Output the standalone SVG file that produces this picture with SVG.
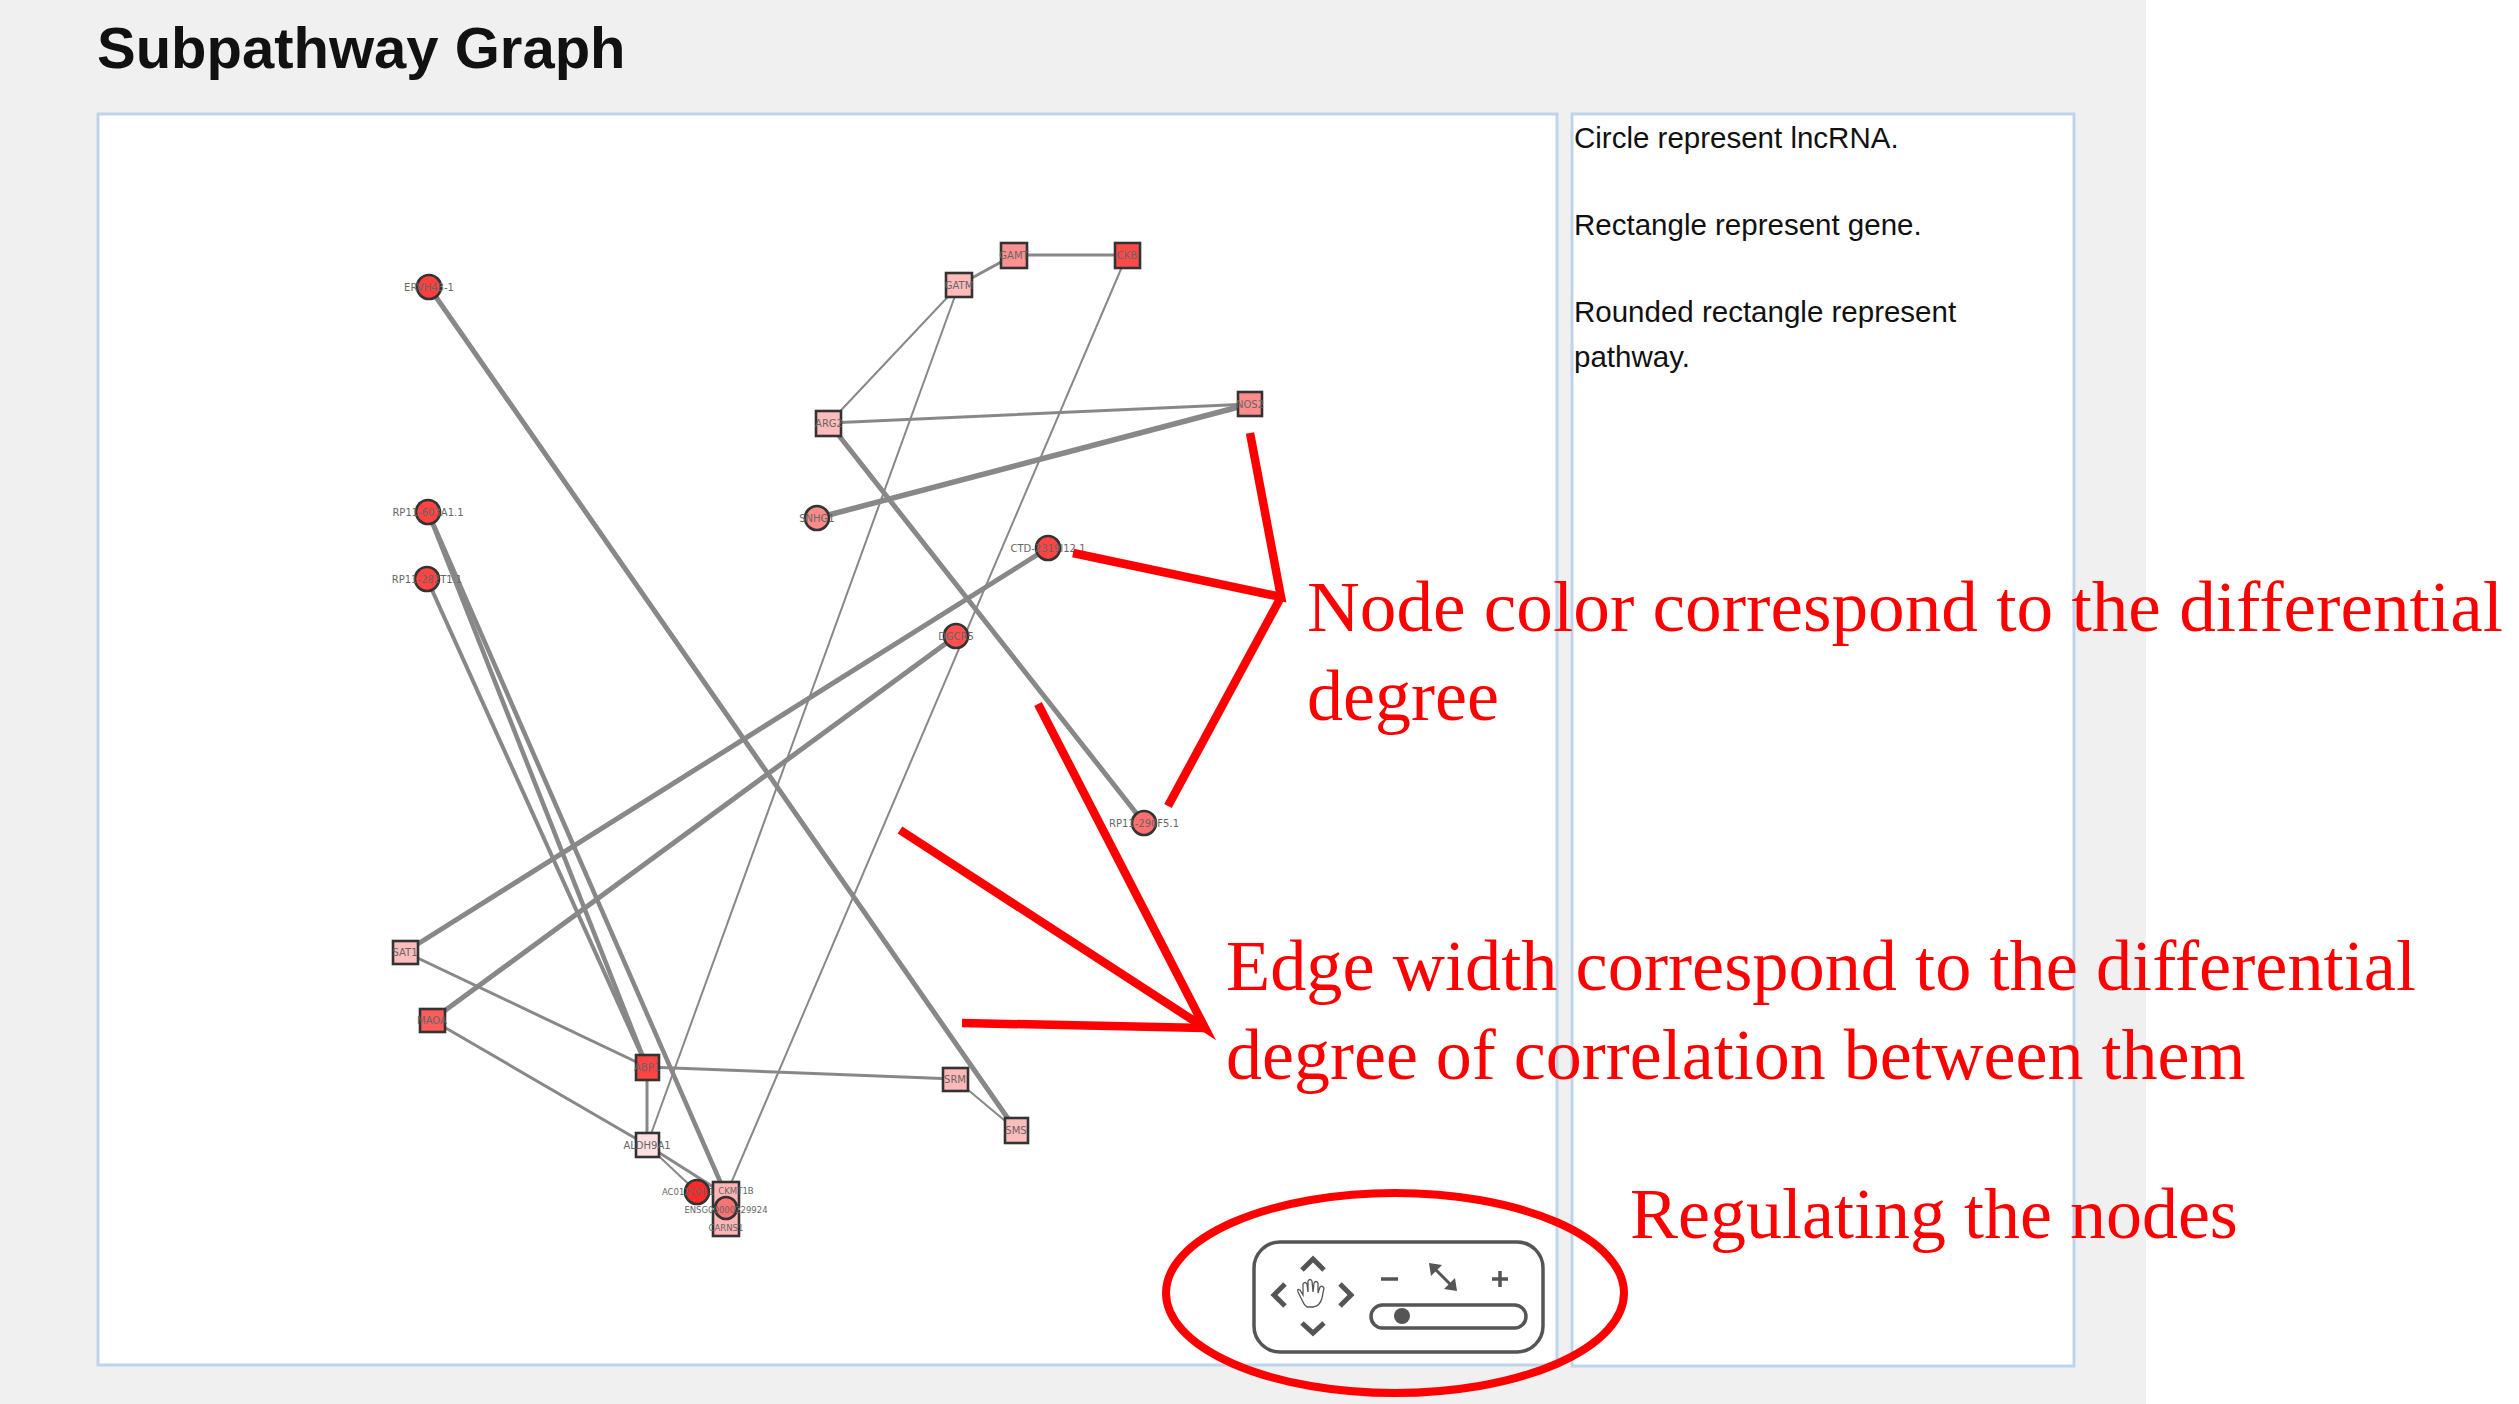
<svg xmlns="http://www.w3.org/2000/svg" width="2519" height="1404" viewBox="0 0 2519 1404">
<style>
.e{stroke:#888;fill:none;stroke-linecap:round}
.n{stroke:#333;stroke-width:2.6}
.lb{font-family:"DejaVu Sans",sans-serif;font-size:10px;fill:#666;text-anchor:middle}
.sm{font-size:8.5px}
.ann{stroke:#ff0000;stroke-width:8.5;fill:none;stroke-linecap:butt;stroke-linejoin:miter}
.at{font-family:"Liberation Serif","Times New Roman",serif;font-size:72px;fill:#ff0000}
.pt{font-family:"Liberation Sans",Arial,sans-serif;font-size:29.5px;fill:#111}
.ctl{stroke:#555;fill:none}
</style>
<rect x="0" y="0" width="2519" height="1404" fill="#ffffff"/>
<rect x="0" y="0" width="2146" height="1404" fill="#f0f0f0"/>
<text x="97" y="68" font-family="Liberation Sans, Arial, sans-serif" font-size="58" font-weight="bold" fill="#111">Subpathway Graph</text>
<rect id="graph-panel" x="98" y="114" width="1459" height="1251" fill="#ffffff" stroke="#bfd3ea" stroke-width="3"/>
<rect id="legend-panel" x="1572" y="114" width="502" height="1252" fill="#ffffff" stroke="#bfd3ea" stroke-width="3"/>
<g id="legend-text">
<text class="pt" x="1574" y="148">Circle represent lncRNA.</text>
<text class="pt" x="1574" y="235">Rectangle represent gene.</text>
<text class="pt" x="1574" y="322">Rounded rectangle represent</text>
<text class="pt" x="1574" y="367">pathway.</text>
</g>
<g id="edges">
<line class="e" x1="429" y1="287" x2="1016" y2="1130" stroke-width="5"/>
<line class="e" x1="428" y1="512" x2="647" y2="1067" stroke-width="4.5"/>
<line class="e" x1="428" y1="512" x2="726" y2="1195" stroke-width="4.5"/>
<line class="e" x1="427" y1="579" x2="647" y2="1067" stroke-width="4"/>
<line class="e" x1="405" y1="952" x2="1048" y2="548" stroke-width="5"/>
<line class="e" x1="432" y1="1020" x2="956" y2="636" stroke-width="5"/>
<line class="e" x1="829" y1="423" x2="1144" y2="823" stroke-width="5"/>
<line class="e" x1="817" y1="518" x2="1250" y2="404" stroke-width="5.5"/>
<line class="e" x1="829" y1="423" x2="1250" y2="404" stroke-width="3" stroke="#999"/>
<line class="e" x1="829" y1="423" x2="959" y2="285" stroke-width="2" stroke="#999"/>
<line class="e" x1="959" y1="285" x2="1014" y2="255" stroke-width="3"/>
<line class="e" x1="1014" y1="255" x2="1127" y2="255" stroke-width="3"/>
<line class="e" x1="959" y1="285" x2="647" y2="1145" stroke-width="2" stroke="#999"/>
<line class="e" x1="1127" y1="255" x2="726" y2="1195" stroke-width="2" stroke="#999"/>
<line class="e" x1="405" y1="952" x2="647" y2="1067" stroke-width="3"/>
<line class="e" x1="432" y1="1020" x2="647" y2="1145" stroke-width="3"/>
<line class="e" x1="647" y1="1067" x2="647" y2="1145" stroke-width="3"/>
<line class="e" x1="647" y1="1067" x2="955" y2="1079" stroke-width="3" stroke="#999"/>
<line class="e" x1="955" y1="1079" x2="1016" y2="1130" stroke-width="2" stroke="#999"/>
<line class="e" x1="647" y1="1145" x2="697" y2="1192" stroke-width="2" stroke="#aaa"/>
<line class="e" x1="647" y1="1145" x2="726" y2="1195" stroke-width="3"/>
</g>
<g id="node-GAMT"><rect class="n" x="1001" y="243" width="26" height="25" fill="#ff9090"/><text class="lb" x="1014" y="259">GAMT</text></g>
<g id="node-CKB"><rect class="n" x="1115" y="243" width="25" height="25" fill="#ff4a4a"/><text class="lb" x="1127" y="259">CKB</text></g>
<g id="node-GATM"><rect class="n" x="946" y="273" width="26" height="24" fill="#ffbaba"/><text class="lb" x="959" y="289">GATM</text></g>
<g id="node-ARG2"><rect class="n" x="816" y="411" width="25" height="25" fill="#ffbcbc"/><text class="lb" x="829" y="427">ARG2</text></g>
<g id="node-NOS2"><rect class="n" x="1238" y="392" width="24" height="24" fill="#ff8c8c"/><text class="lb" x="1250" y="408">NOS2</text></g>
<g id="node-SAT1"><rect class="n" x="393" y="941" width="25" height="23" fill="#ffbcbc"/><text class="lb" x="405" y="956">SAT1</text></g>
<g id="node-MAOA"><rect class="n" x="420" y="1009" width="25" height="23" fill="#ff5c5c"/><text class="lb" x="432" y="1024">MAOA</text></g>
<g id="node-ABP1"><rect class="n" x="636" y="1055" width="23" height="25" fill="#ff4444"/><text class="lb" x="647" y="1071">ABP1</text></g>
<g id="node-ALDH9A1"><rect class="n" x="636" y="1133" width="23" height="24" fill="#ffe0e0"/><text class="lb" x="647" y="1149">ALDH9A1</text></g>
<g id="node-SRM"><rect class="n" x="943" y="1068" width="25" height="23" fill="#ffb8b8"/><text class="lb" x="955" y="1083">SRM</text></g>
<g id="node-SMS"><rect class="n" x="1005" y="1118" width="23" height="25" fill="#ffbcbc"/><text class="lb" x="1016" y="1134">SMS</text></g>
<g id="node-ERVH48-1"><circle class="n" cx="429" cy="287" r="12" fill="#ff4040"/><text class="lb" x="429" y="291">ERVH48-1</text></g>
<g id="node-RP11-603A1.1"><circle class="n" cx="428" cy="512" r="12" fill="#ff4444"/><text class="lb" x="428" y="516">RP11-603A1.1</text></g>
<g id="node-RP11-282T1.1"><circle class="n" cx="427" cy="579" r="12" fill="#ff4444"/><text class="lb" x="427" y="583">RP11-282T1.1</text></g>
<g id="node-SNHG1"><circle class="n" cx="817" cy="518" r="12" fill="#ff8a8a"/><text class="lb" x="817" y="522">SNHG1</text></g>
<g id="node-CTD"><circle class="n" cx="1048" cy="548" r="12" fill="#ff4444"/><text class="lb" x="1048" y="552">CTD-2319I12.1</text></g>
<g id="node-DGCR5"><circle class="n" cx="956" cy="636" r="12" fill="#ff5050"/><text class="lb" x="956" y="640">DGCR5</text></g>
<g id="node-RP11-290F5.1"><circle class="n" cx="1144" cy="823" r="12" fill="#ff7070"/><text class="lb" x="1144" y="827">RP11-290F5.1</text></g>
<g id="node-CKMT1B"><rect class="n" x="713" y="1182" width="26" height="25" fill="#ffb5b5"/><text class="lb sm" x="736" y="1194">CKMT1B</text></g>
<g id="node-CARNS1"><rect class="n" x="713" y="1211" width="26" height="25" fill="#ffb5b5"/><text class="lb sm" x="726" y="1231">CARNS1</text></g>
<g id="node-AC"><circle class="n" cx="697" cy="1192" r="12" fill="#ff2a2a"/><text class="lb sm" x="688" y="1195">AC012204.1</text></g>
<g id="node-ENSG"><circle class="n" cx="726" cy="1208" r="11" fill="#ff7272"/><text class="lb sm" x="726" y="1213">ENSG00000229924</text></g>
<g id="controls">
<rect class="ctl" x="1254" y="1242" width="289" height="110" rx="26" stroke-width="3.5"/>
<polyline class="ctl" points="1302,1270 1313,1259 1324,1270" stroke-width="5"/>
<polyline class="ctl" points="1302,1323 1313,1333 1324,1323" stroke-width="5"/>
<polyline class="ctl" points="1285,1284 1274,1295 1285,1306" stroke-width="5"/>
<polyline class="ctl" points="1340,1284 1351,1295 1340,1306" stroke-width="5"/>
<path class="ctl" stroke-width="1.3" d="M1302,1300 L1298,1292 Q1297,1288 1300,1290 L1303,1295 L1303,1284 Q1305,1281 1307,1284 L1308,1292 L1308,1281 Q1310,1278 1312,1281 L1313,1292 L1314,1283 Q1316,1280 1318,1283 L1318,1293 L1320,1287 Q1322,1285 1324,1288 L1322,1298 Q1320,1306 1313,1307 L1307,1307 Q1304,1305 1302,1300 Z"/>
<line class="ctl" x1="1381" y1="1279" x2="1398" y2="1279" stroke-width="3.5"/>
<line class="ctl" x1="1492" y1="1279" x2="1508" y2="1279" stroke-width="3.5"/>
<line class="ctl" x1="1500" y1="1271" x2="1500" y2="1287" stroke-width="3.5"/>
<line class="ctl" x1="1434" y1="1268" x2="1452" y2="1286" stroke-width="3"/>
<polygon points="1429,1263 1442,1265 1431,1276" fill="#555"/>
<polygon points="1457,1291 1444,1289 1455,1278" fill="#555"/>
<rect class="ctl" x="1371" y="1305" width="155" height="23" rx="11.5" stroke-width="3.5"/>
<circle cx="1402" cy="1316" r="8" fill="#555"/>
</g>
<g id="annotations">
<polyline class="ann" points="1250,433 1281,597 1073,553"/>
<line class="ann" x1="1281" y1="597" x2="1168" y2="806"/>
<polyline class="ann" points="1038,704 1205,1028 900,830"/>
<line class="ann" x1="1205" y1="1028" x2="962" y2="1023"/>
<ellipse cx="1395" cy="1293" rx="229" ry="100" fill="none" stroke="#ff0000" stroke-width="8"/>
<text class="at" x="1307" y="631" textLength="1196" lengthAdjust="spacingAndGlyphs">Node color correspond to the differential</text>
<text class="at" x="1307" y="720">degree</text>
<text class="at" x="1226" y="990" textLength="1190" lengthAdjust="spacingAndGlyphs">Edge width correspond to the differential</text>
<text class="at" x="1226" y="1079">degree of correlation between them</text>
<text class="at" x="1630" y="1238">Regulating the nodes</text>
</g>
</svg>
